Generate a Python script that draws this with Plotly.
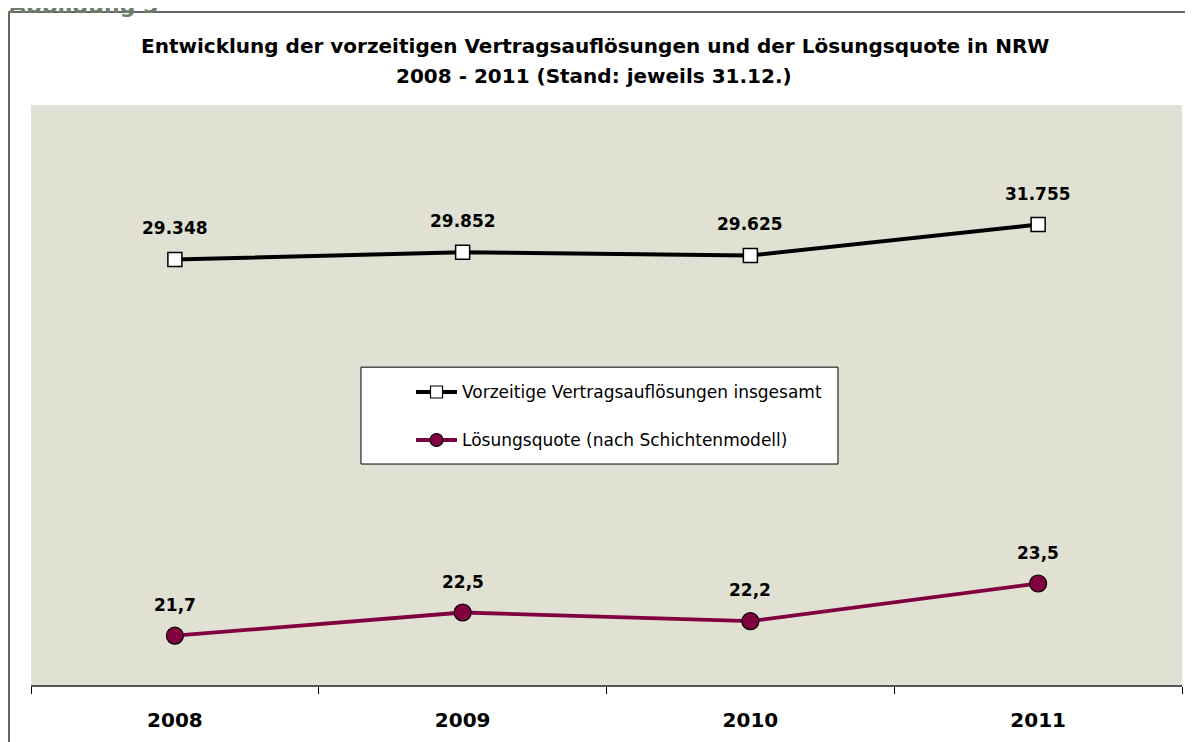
import plotly.graph_objects as go

years = ["2008", "2009", "2010", "2011"]
aufloesungen = [29348, 29852, 29625, 31755]
aufloesungen_labels = ["29.348", "29.852", "29.625", "31.755"]
quote = [21.7, 22.5, 22.2, 23.5]
quote_labels = ["21,7", "22,5", "22,2", "23,5"]

name_total = "Vorzeitige Vertragsauflösungen insgesamt"
name_quote = "Lösungsquote (nach Schichtenmodell)"
title_line1 = "Entwicklung der vorzeitigen Vertragsauflösungen und der Lösungsquote in NRW"
title_line2 = "2008 - 2011 (Stand: jeweils 31.12.)"

FONT = "DejaVu Sans, Verdana, sans-serif"
MAROON = "#800040"
BG = "#E0E0D3"

fig = go.Figure()
fig.add_trace(go.Scatter(
    x=years, y=aufloesungen, mode="lines+markers", name=name_total,
    line=dict(color="black", width=4),
    marker=dict(symbol="square", size=14, color="white", line=dict(color="black", width=1.5)),
    yaxis="y", showlegend=False, cliponaxis=False,
))
fig.add_trace(go.Scatter(
    x=years, y=quote, mode="lines+markers", name=name_quote,
    line=dict(color=MAROON, width=3.8),
    marker=dict(symbol="circle", size=17, color=MAROON, line=dict(color="black", width=1.2)),
    yaxis="y2", showlegend=False, cliponaxis=False,
))

label_font = dict(family=FONT, size=17, color="black", weight="bold")
annotations = []
for i, (yv, t) in enumerate(zip(aufloesungen, aufloesungen_labels)):
    annotations.append(dict(x=i, y=yv, xref="x", yref="y", text=t, showarrow=False,
                            yshift=31, font=label_font))
for i, (yv, t) in enumerate(zip(quote, quote_labels)):
    annotations.append(dict(x=i, y=yv, xref="x", yref="y2", text=t, showarrow=False,
                            yshift=31, font=label_font))

# Title (two lines, spaced like the reference)
title_font = dict(family=FONT, size=20, color="black", weight="bold")
annotations.append(dict(x=0.5, y=1.0, xref="paper", yref="paper", yanchor="middle",
                        xshift=-12, yshift=59, text=title_line1, showarrow=False, font=title_font))
annotations.append(dict(x=0.5, y=1.0, xref="paper", yref="paper", yanchor="middle",
                        xshift=-13, yshift=29, text=title_line2, showarrow=False, font=title_font))
# cut-off header at the very top
annotations.append(dict(x=0.0, y=1.0, xref="paper", yref="paper", xanchor="left", yanchor="bottom",
                        xshift=-24, yshift=85, text="Abbildung 5", showarrow=False,
                        font=dict(family=FONT, size=22, color="#6E7E6E", weight="bold")))

# legend (drawn manually to match the box size)
leg_x0, leg_x1 = 0.2867, 0.7011
leg_y0, leg_y1 = 0.381, 0.548
row_y = [0.5052, 0.4224]
names = [name_total, name_quote]
for ry, nm in zip(row_y, names):
    annotations.append(dict(x=0.3727, y=ry, xref="paper", yref="paper", xanchor="left",
                            yanchor="middle", text=nm, showarrow=False,
                            font=dict(family=FONT, size=17, color="black")))

shapes = [
    # outer frame
    dict(type="rect", xref="paper", yref="paper", x0=-0.0191, x1=1.03, y0=-0.2, y1=1.1603,
         line=dict(color="#333333", width=1.5), fillcolor="rgba(0,0,0,0)", layer="below"),
    # legend box
    dict(type="rect", xref="paper", yref="paper", x0=leg_x0, x1=leg_x1, y0=leg_y0, y1=leg_y1,
         line=dict(color="black", width=1), fillcolor="white"),
    dict(type="line", xref="paper", yref="paper", x0=0.3345, x1=0.3701, y0=row_y[0], y1=row_y[0],
         line=dict(color="black", width=4)),
    dict(type="line", xref="paper", yref="paper", x0=0.3345, x1=0.3701, y0=row_y[1], y1=row_y[1],
         line=dict(color=MAROON, width=4)),
    dict(type="rect", xref="paper", yref="paper", xsizemode="pixel", ysizemode="pixel",
         xanchor=0.3523, yanchor=row_y[0], x0=-6, x1=6, y0=-6, y1=6,
         line=dict(color="black", width=1.2), fillcolor="white"),
    dict(type="circle", xref="paper", yref="paper", xsizemode="pixel", ysizemode="pixel",
         xanchor=0.3523, yanchor=row_y[1], x0=-6.5, x1=6.5, y0=-6.5, y1=6.5,
         line=dict(color="black", width=1.2), fillcolor=MAROON),
]

fig.update_layout(
    width=1193, height=742,
    margin=dict(l=23, r=19, t=97, b=65),
    paper_bgcolor="white", plot_bgcolor=BG,
    font=dict(family=FONT, color="black"),
    annotations=annotations, shapes=shapes,
    xaxis=dict(type="category", range=[-0.5, 3.5], tickson="boundaries", ticks="outside",
               ticklen=7, tickcolor="black", tickwidth=1, showline=True, linecolor="#555555",
               linewidth=1.5, showgrid=False, zeroline=False, ticklabelstandoff=16,
               tickfont=dict(family=FONT, size=20, color="black", weight="bold")),
    yaxis=dict(range=[0, 40000], visible=False, showgrid=False, zeroline=False),
    yaxis2=dict(range=[20, 40], overlaying="y", visible=False, showgrid=False, zeroline=False),
)

fig.write_html("out.html")
